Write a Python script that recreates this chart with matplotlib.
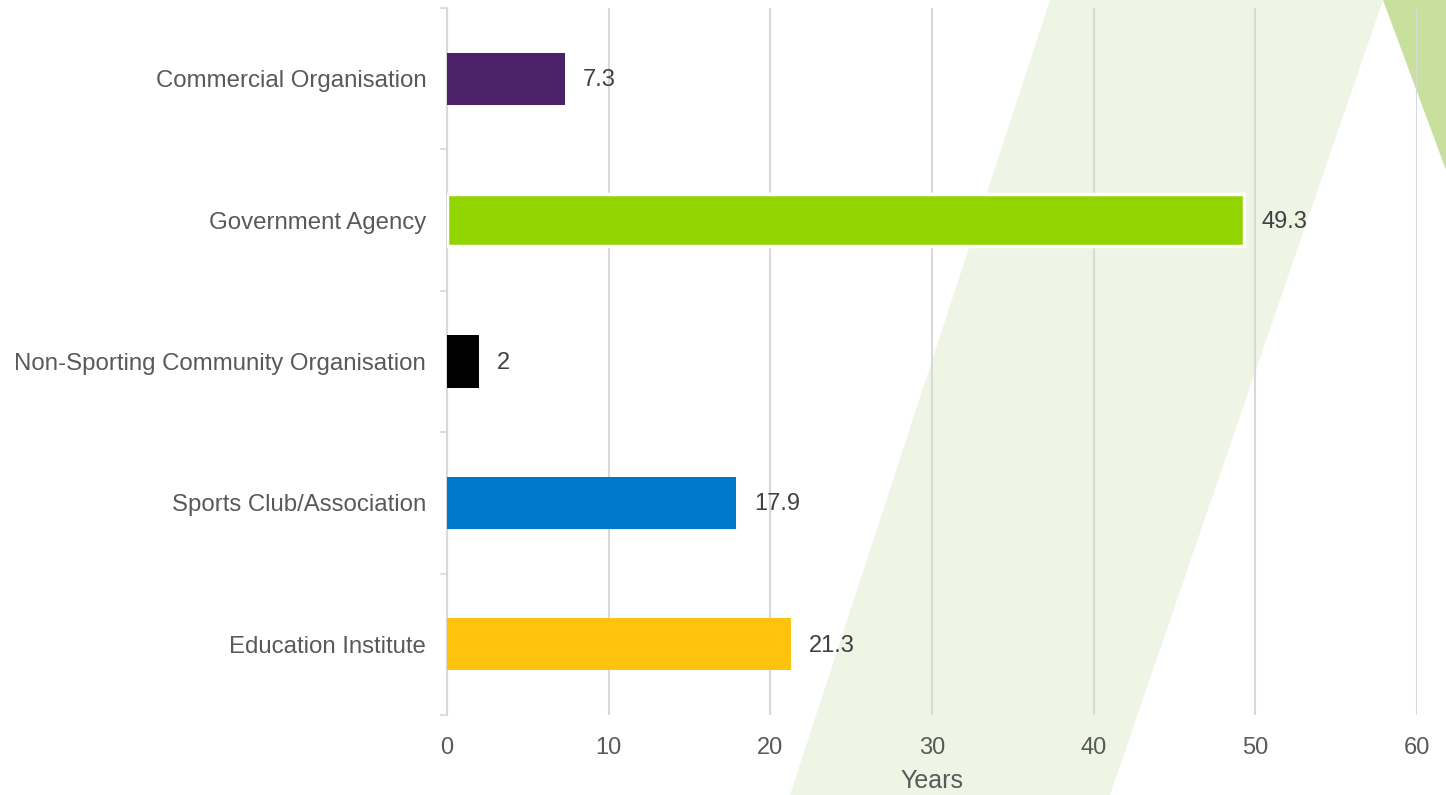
import matplotlib.pyplot as plt
from matplotlib.patches import Polygon

plt.rcParams['font.family'] = ['Liberation Sans', 'DejaVu Sans']

categories = ["Commercial Organisation", "Government Agency",
              "Non-Sporting Community Organisation", "Sports Club/Association",
              "Education Institute"]
years = [7.3, 49.3, 2, 17.9, 21.3]
colors = ["#4B2267", "#92D400", "#000000", "#0077C8", "#FFC20E"]
xticks = [0, 10, 20, 30, 40, 50, 60]

W, H = 1446, 795
fig = plt.figure(figsize=(W / 100, H / 100), dpi=100)


def px(pts):
    return [(x / W, 1 - y / H) for x, y in pts]


# background decoration (behind the axes)
fig.patches.append(Polygon(px([(790, 795), (1050, 0), (1383, 0), (1110, 795)]),
                           closed=True, transform=fig.transFigure,
                           facecolor="#EEF5E4", edgecolor="none", zorder=-2))
fig.patches.append(Polygon(px([(1383, 0), (1446, 0), (1446, 170)]),
                           closed=True, transform=fig.transFigure,
                           facecolor="#C8E09E", edgecolor="none", zorder=-2))

ax = fig.add_axes([447 / W, 80 / H, (1417 - 447) / W, (715 - 8) / H])
ax.set_facecolor("none")

pos = list(range(len(categories)))
bars = ax.barh(pos, years, height=0.37, color=colors, zorder=3)
bars[1].set_edgecolor("white")
bars[1].set_linewidth(2.5)

for p, v in zip(pos, years):
    ax.text(v + 1.1, p + 0.01, f"{v:g}", va="center", ha="left",
            fontsize=17, color="#404040", zorder=4)

ax.set_ylim(len(categories) - 0.5, -0.5)
ax.set_xlim(0, 60)
ax.set_yticks(pos)
ax.set_yticklabels(categories, fontsize=17.3, color="#595959")
ax.set_yticks([i - 0.5 for i in range(len(categories) + 1)], minor=True)
ax.tick_params(axis="y", which="major", length=0, pad=15)
ax.tick_params(axis="y", which="minor", length=5, width=1.2, color="#D9D9D9")

ax.set_xticks(xticks)
ax.set_xticklabels([str(t) for t in xticks], fontsize=17, color="#595959")
ax.tick_params(axis="x", length=0, pad=16)
ax.set_xlabel("Years", fontsize=18, color="#595959", labelpad=7)

ax.grid(axis="x", color="#D9D9D9", linewidth=1.5, zorder=1)
ax.set_axisbelow(True)
for s in ["top", "right", "bottom"]:
    ax.spines[s].set_visible(False)
ax.spines["left"].set_color("#D9D9D9")
ax.spines["left"].set_linewidth(1.5)

fig.savefig("out.png", dpi=100)
